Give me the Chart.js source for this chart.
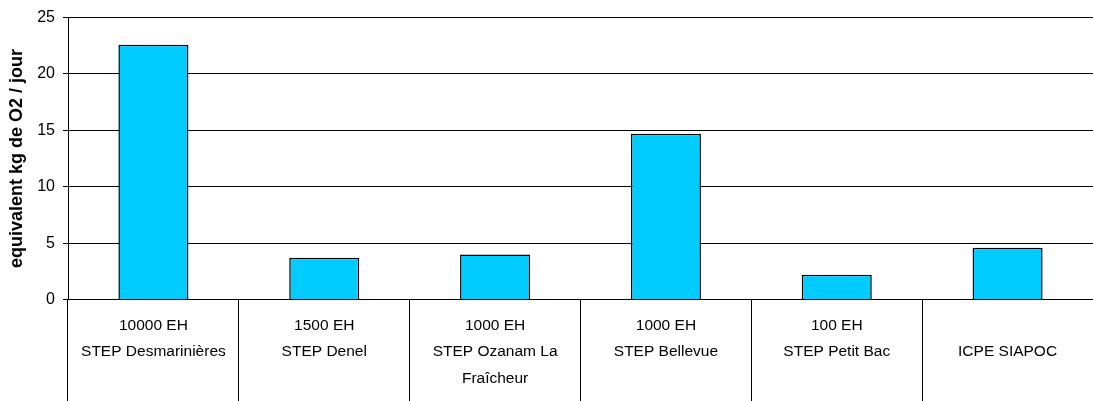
<!DOCTYPE html>
<html>
<head>
<meta charset="utf-8">
<script src="https://cdn.jsdelivr.net/npm/chart.js@4"></script>
<style>
html,body{margin:0;padding:0;background:#fff;}
#wrap{width:1093px;height:401px;}
</style>
</head>
<body>
<div id="wrap"><canvas id="c" width="1093" height="401"></canvas></div>
<script>
const capacities = ['10000 EH', '1500 EH', '1000 EH', '1000 EH', '100 EH', ''];
const names = [['STEP Desmarinières'], ['STEP Denel'], ['STEP Ozanam La', 'Fraîcheur'], ['STEP Bellevue'], ['STEP Petit Bac'], ['ICPE SIAPOC']];
const values = [22.6, 3.7, 4.0, 14.7, 2.2, 4.6];
const yTitle = 'equivalent kg de O2 / jour';

const labels = capacities.map((c, i) => [c].concat(names[i]));
const FONT = "'Liberation Sans', Arial, sans-serif";

new Chart(document.getElementById('c'), {
  type: 'bar',
  data: {
    labels: labels,
    datasets: [{
      data: values,
      backgroundColor: '#00CCFF',
      borderColor: '#000000',
      borderWidth: 1.5,
      categoryPercentage: 1,
      barPercentage: 0.41
    }]
  },
  options: {
    responsive: false,
    animation: false,
    devicePixelRatio: 1,
    layout: { padding: { top: 16, right: 0, left: 0, bottom: 0 } },
    plugins: { legend: { display: false }, tooltip: { enabled: false } },
    scales: {
      x: {
        grid: { offset: true, drawOnChartArea: false, tickLength: 102, color: '#000', lineWidth: 1 },
        border: { display: true, color: '#000', width: 1 },
        ticks: { color: '#000', font: { family: FONT, size: 15.5, lineHeight: 1.7 }, padding: -89, maxRotation: 0, autoSkip: false },
        afterFit: s => { s.height = 101.5; }
      },
      y: {
        min: 0, max: 25,
        ticks: { stepSize: 5, color: '#000', font: { family: FONT, size: 16 }, padding: 8 },
        grid: { color: '#000', lineWidth: 1, tickLength: 5 },
        border: { display: true, color: '#000', width: 1 },
        title: { display: true, text: yTitle, color: '#000', font: { family: FONT, size: 18, weight: 'bold' }, padding: { top: 6, bottom: 0 } },
        afterFit: s => { s.width = 68; }
      }
    }
  }
});
</script>
</body>
</html>
